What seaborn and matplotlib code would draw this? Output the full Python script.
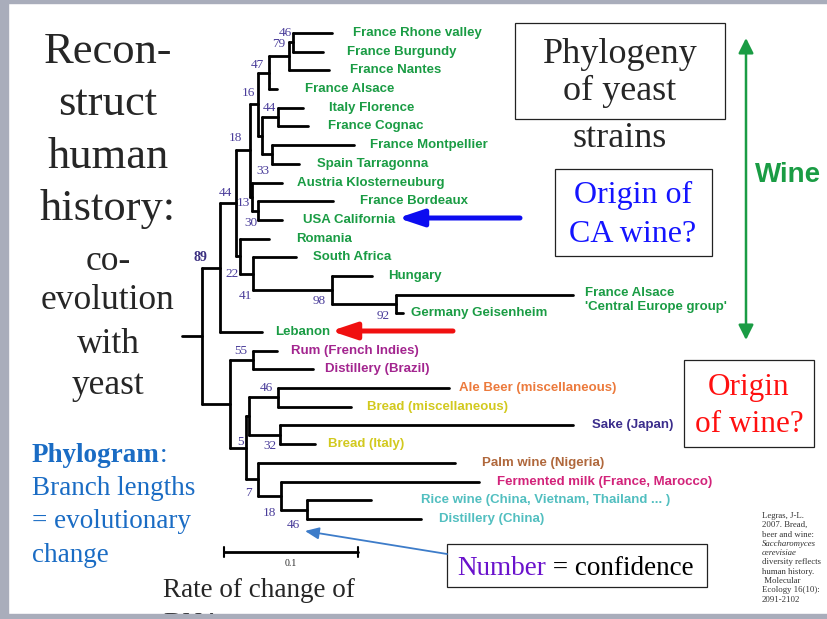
import matplotlib
matplotlib.use("Agg")
import matplotlib.pyplot as plt
from matplotlib.patches import Rectangle
import pandas as pd
import seaborn as sns

sns.set_theme(style="white")
plt.rcParams["font.family"] = ["Liberation Sans", "DejaVu Sans"]

# ---- tree data: leaves top to bottom, tip depth in substitutions / site ----
leaf_names = [
    "France Rhone valley", "France Burgundy", "France Nantes", "France Alsace",
    "Italy Florence", "France Cognac", "France Montpellier", "Spain Tarragonna",
    "Austria Klosterneuburg", "France Bordeaux", "USA California", "Romania",
    "South Africa", "Hungary", "France Alsace\n'Central Europe group'",
    "Germany Geisenheim", "Lebanon", "Rum (French Indies)", "Distillery (Brazil)",
    "Ale Beer (miscellaneous)", "Bread (miscellaneous)", "Sake (Japan)",
    "Bread (Italy)", "Palm wine (Nigeria)", "Fermented milk (France, Marocco)",
    "Rice wine (China, Vietnam, Thailand ... )", "Distillery (China)",
]
leaf_depth = [0.112, 0.105, 0.110, 0.071, 0.090, 0.094, 0.128, 0.087,
              0.075, 0.113, 0.075, 0.065, 0.085, 0.142, 0.292, 0.165,
              0.060, 0.071, 0.098, 0.199, 0.126, 0.292, 0.099, 0.204,
              0.222, 0.141, 0.178]
leaf_group = ["wine"] * 17 + ["rum", "rum", "ale", "bread", "sake", "bread",
                              "palm", "milk", "rice", "rice"]

# internal nodes (ints = leaf index)
node_children = {
    "a46": [0, 1], "a79": ["a46", 2], "a47": ["a79", 3],
    "a44": [4, 5], "a33": [6, 7], "aIS": ["a44", "a33"],
    "a16": ["a47", "aIS"], "a30": [9, 10], "a13": [8, "a30"],
    "a18": ["a16", "a13"], "b92": [14, 15], "b98": [13, "b92"],
    "b41": [12, "b98"], "b22": [11, "b41"], "c44": ["a18", "b22"],
    "c89": ["c44", 16], "d55": [17, 18], "d46": [19, 20], "d32": [21, 22],
    "dX": ["d46", "d32"], "e46": [25, 26], "e18": [24, "e46"],
    "e7": [23, "e18"], "d5": ["dX", "e7"], "dB": ["d55", "d5"],
    "root": ["c89", "dB"],
}
node_depth = {
    "a46": 0.083, "a79": 0.080, "a47": 0.065, "a44": 0.072, "a33": 0.067,
    "aIS": 0.060, "a16": 0.057, "a30": 0.057, "a13": 0.052, "a18": 0.051,
    "b92": 0.160, "b98": 0.112, "b41": 0.053, "b22": 0.043, "c44": 0.040,
    "c89": 0.028, "d55": 0.053, "d46": 0.072, "d32": 0.073, "dX": 0.050,
    "e46": 0.093, "e18": 0.074, "e7": 0.057, "d5": 0.048, "dB": 0.036,
    "root": 0.015,
}
node_support = {
    "a46": 46, "a79": 79, "a47": 47, "a44": 44, "a33": 33, "a16": 16,
    "a30": 30, "a13": 13, "a18": 18, "b92": 92, "b98": 98, "b41": 41,
    "b22": 22, "c44": 44, "c89": 89, "d55": 55, "d46": 46, "d32": 32,
    "e46": 46, "e18": 18, "e7": 7, "d5": 5,
}

# ---- styling / layout ----
group_colors = {"wine": "#1a9c44", "rum": "#a3258f", "ale": "#ec7a3c",
                "bread": "#d2c91e", "sake": "#3b2d8c", "palm": "#b0683c",
                "milk": "#d2237a", "rice": "#52bfc0"}
leaf_gap = [21, 24, 21, 28, 26, 20, 16, 18, 15, 27, 21, 27, 17, 16, 12, 8,
            13, 14, 12, 10, 16, 19, 13, 27, 18, 50, 18]
support_offset = {
    "a46": (-8, -9.5), "a79": (-11, -12), "a47": (-12, -8), "a16": (-10, -11.5),
    "a44": (-9, -9), "a33": (-9, 17), "a13": (-8, 6), "a30": (-7, 12.5),
    "a18": (-15, -12.6), "b92": (-13, 12), "b98": (-13, 11), "b41": (-8, 22.5),
    "b22": (-8, 18), "c44": (-10, -10.7), "c89": (-19, -10), "d55": (-12, -9),
    "d46": (-12, -9), "d32": (-10, 11), "e46": (-13, 15), "e18": (-12, 17),
    "e7": (-10, 13.5), "d5": (-6, -6),
}
W, H = 828, 619
PX_PER_UNIT = 1340.0   # 0.1 substitutions = 134 px
X0, Y0, DY = 182.0, 33.0, 18.69
serif = ["Liberation Serif", "DejaVu Serif"]


def depth(n):
    return leaf_depth[n] if isinstance(n, int) else node_depth[n]


ypos = {}


def ycoord(n):
    if isinstance(n, int):
        return float(n)
    if n not in ypos:
        ypos[n] = sum(ycoord(c) for c in node_children[n]) / len(node_children[n])
    return ypos[n]


rows = []
for name, kids in node_children.items():
    xs = node_depth[name]
    ys = [ycoord(c) for c in kids]
    sid = len(rows)
    rows += [(sid, xs, min(ys)), (sid, xs, max(ys))]
    for c in kids:
        sid = len(rows)
        rows += [(sid, xs, ycoord(c)), (sid, depth(c), ycoord(c))]
sid = len(rows)
rows += [(sid, 0.0, ycoord("root")), (sid, node_depth["root"], ycoord("root"))]
seg_df = pd.DataFrame(rows, columns=["seg", "x", "y"])

fig = plt.figure(figsize=(W / 100, H / 100), dpi=100)
fig.patch.set_facecolor("white")

ax_t = fig.add_axes([0, 0, 1, 1])
ax_t.set_xlim(-X0 / PX_PER_UNIT, (W - X0) / PX_PER_UNIT)
ax_t.set_ylim((H - Y0) / DY, -Y0 / DY)
ax_t.axis("off")
ax_t.patch.set_alpha(0)

sns.lineplot(data=seg_df, x="x", y="y", units="seg", estimator=None,
             sort=False, color="black", lw=2.0, legend=False, ax=ax_t)

for i, name in enumerate(leaf_names):
    two_line = "\n" in name
    ax_t.annotate(name, xy=(leaf_depth[i], i),
                  xytext=(leaf_gap[i], 8 if two_line else 0),
                  textcoords="offset pixels", ha="left",
                  va="top" if two_line else "center",
                  color=group_colors[leaf_group[i]], fontsize=9.5,
                  fontweight="bold", linespacing=1.3)

for name, val in node_support.items():
    dx, dy = support_offset[name]
    ax_t.annotate(str(val), xy=(node_depth[name], ycoord(name)),
                  xytext=(dx, -dy), textcoords="offset pixels",
                  ha="center", va="center", family=serif,
                  fontsize=10 if val == 89 else 9.5,
                  fontweight="bold" if val == 89 else "normal",
                  color="#3b2f80" if val == 89 else "#4a3d9a")

# scale bar 0.1
sb_x, sb_y = (224 - X0) / PX_PER_UNIT, (552 - Y0) / DY
ax_t.plot([sb_x, sb_x + 0.1], [sb_y, sb_y], color="black", lw=2)
for xx in (sb_x, sb_x + 0.1):
    ax_t.plot([xx, xx], [sb_y - 0.27, sb_y + 0.27], color="black", lw=1.5)
ax_t.text(sb_x + 0.05, sb_y + 0.6, "0.1", ha="center", va="center",
          family=serif, fontsize=7)

# ---- slide overlay in pixel coordinates ----
ax = fig.add_axes([0, 0, 1, 1])
ax.set_xlim(0, W)
ax.set_ylim(H, 0)
ax.axis("off")
ax.patch.set_alpha(0)

for txt, yb in zip(["Recon-", "struct", "human", "history:"], [63, 115, 168, 220]):
    ax.text(108, yb, txt, ha="center", va="baseline", family=serif, fontsize=32)
for txt, yb in zip(["co-", "evolution", "with", "yeast"], [270, 309, 353, 394]):
    ax.text(108, yb, txt, ha="center", va="baseline", family=serif, fontsize=25.5)

ax.add_patch(Rectangle((515, 23), 210, 96, fill=False, ec="#222", lw=0.9))
for txt, yb in zip(["Phylogeny", "of yeast", "strains"], [63, 100, 147]):
    ax.text(620, yb, txt, ha="center", va="baseline", family=serif, fontsize=26)

ax.add_patch(Rectangle((555, 169), 157, 87, fill=False, ec="#222", lw=0.9))
for txt, yb in zip(["Origin of", "CA wine?"], [203, 242]):
    ax.text(633, yb, txt, ha="center", va="baseline", family=serif,
            fontsize=23, color="#1414ff")

ax.add_patch(Rectangle((684, 360), 130, 87, fill=False, ec="#222", lw=0.9))
for txt, yb in zip(["Origin", "of wine?"], [395, 432]):
    ax.text(749, yb, txt, ha="center", va="baseline", family=serif,
            fontsize=22.5, color="#ff1010")

ax.text(755, 175, "Wine", ha="left", va="center", fontsize=20,
        fontweight="bold", color="#1a9c44")

ax.add_patch(Rectangle((447, 544), 260, 43, fill=False, ec="#222", lw=0.9))
t1 = ax.text(457, 575, "Number", ha="left", va="baseline", family=serif,
             fontsize=19.5, color="#6a12cc")
ax.annotate(" = confidence", xy=(1, 0), xycoords=t1, ha="left", va="bottom",
            family=serif, fontsize=19.5, color="black")

p1 = ax.text(32, 462, "Phylogram", ha="left", va="baseline", family=serif,
             fontsize=19.5, fontweight="bold", color="#1a6cc4")
ax.annotate(":", xy=(1, 0), xycoords=p1, ha="left", va="bottom",
            family=serif, fontsize=19.5, color="#1a6cc4")
for txt, yb in zip(["Branch lengths", "= evolutionary", "change"], [495, 528, 562]):
    ax.text(32, yb, txt, ha="left", va="baseline", family=serif,
            fontsize=19.5, color="#1a6cc4")

ax.text(163, 597, "Rate of change of", ha="left", va="baseline", family=serif,
        fontsize=19.5)
# second line runs under the slide's bottom frame, as on the original slide
ax.text(163, 631, "DNA", ha="left", va="baseline", family=serif, fontsize=19.5)

cite = ["Legras, J-L.", "2007. Bread,", "beer and wine:", "Saccharomyces",
        "cerevisiae", "diversity reflects", "human history.", " Molecular",
        "Ecology 16(10):", "2091-2102"]
for k, line in enumerate(cite):
    ax.text(762, 518 + 9.3 * k, line, ha="left", va="baseline", family=serif,
            fontsize=6.3, color="#333",
            style="italic" if k in (3, 4) else "normal")

# arrows
ax.annotate("", xy=(398, 218), xytext=(520, 218),
            arrowprops=dict(arrowstyle="-|>,head_length=0.75,head_width=0.25",
                            lw=3.6, color="#0c0cf0", shrinkA=0, shrinkB=0,
                            mutation_scale=20))
ax.annotate("", xy=(331, 331), xytext=(453, 331),
            arrowprops=dict(arrowstyle="-|>,head_length=0.75,head_width=0.25",
                            lw=3.6, color="#f01010", shrinkA=0, shrinkB=0,
                            mutation_scale=20))
ax.annotate("", xy=(746, 38), xytext=(746, 340),
            arrowprops=dict(arrowstyle="<|-|>,head_length=0.6,head_width=0.3",
                            lw=1.8, color="#1a9c44", shrinkA=0, shrinkB=0,
                            mutation_scale=15))
ax.annotate("", xy=(305, 531), xytext=(447, 554),
            arrowprops=dict(arrowstyle="-|>,head_length=0.7,head_width=0.3",
                            lw=1.3, color="#3d7cc9", shrinkA=0, shrinkB=0,
                            mutation_scale=12))

# slide frame (gray border on left, top and bottom)
gray = "#a9adbb"
ax.add_patch(Rectangle((0, 0), 8, H, color=gray, zorder=10))
ax.add_patch(Rectangle((0, 0), W, 3, color=gray, zorder=10))
ax.add_patch(Rectangle((0, 614), W, 5, color=gray, zorder=10))

fig.savefig("out.png", dpi=100, facecolor="white")
